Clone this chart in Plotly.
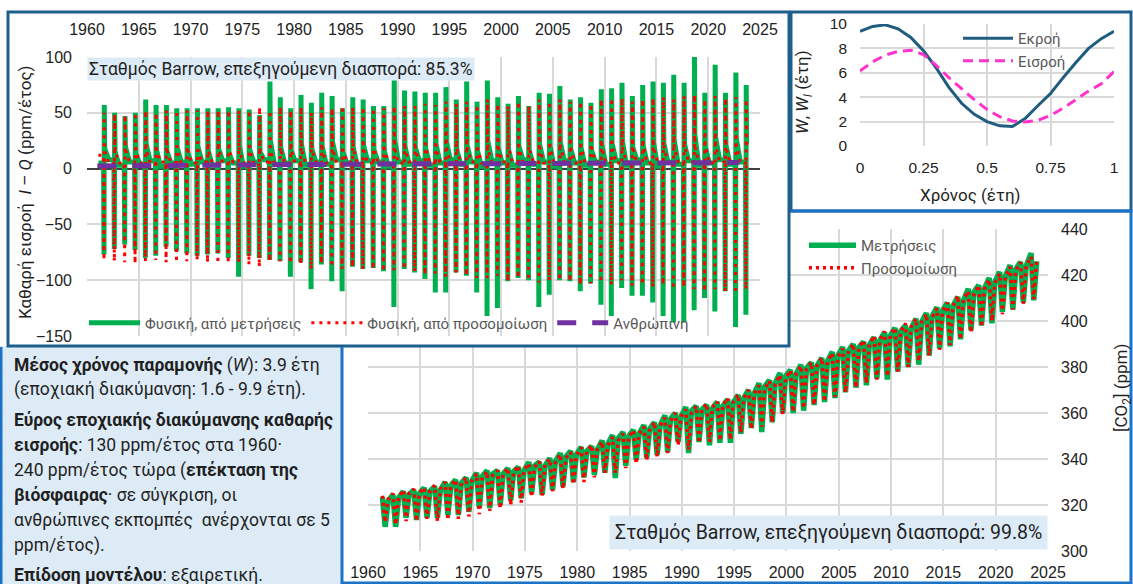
import plotly.graph_objects as go

# ---------------- DATA ----------------
years = list(range(1961, 2024))

# Net inflow I - Q (ppm/yr), per year: measured (green) & simulated (red)
net_meas_peak = [57, 50, 47, 50, 62, 57, 57, 54, 54,
                 54, 54, 54, 55, 54, 53, 48, 78, 64, 54,
                 66, 59, 68, 65, 54, 64, 62, 56, 56, 82,
                 70, 69, 68, 68, 73, 62, 78, 60, 79, 64,
                 58, 65, 56, 68, 67, 74, 62, 64, 59, 71,
                 72, 77, 65, 75, 78, 77, 84, 77, 100, 68,
                 93, 68, 86, 75]
net_meas_trough = [-77, -72, -68, -73, -80, -78, -70, -74, -76,
                   -78, -77, -76, -80, -97, -78, -80, -82, -83, -97,
                   -84, -108, -86, -101, -110, -88, -90, -89, -92, -124,
                   -90, -93, -99, -111, -111, -93, -96, -111, -132, -125,
                   -101, -98, -100, -124, -113, -100, -101, -110, -103, -122,
                   -132, -107, -114, -114, -120, -132, -138, -138, -127, -116,
                   -128, -110, -142, -131]
net_meas_winter = [5, 8, 3, 6, 4, 7, 2, 5, 6,
                   4, 6, 3, 7, 5, 2, 6, 8, 4, 5,
                   7, 3, 6, 4, 8, 5, 3, 7, 6, 2,
                   6, 4, 7, 3, 5, 8, 4, 6, 2, 7,
                   5, 3, 8, 4, 6, 2, 7, 5, 3, 6,
                   4, 7, 3, 8, 5, 2, 6, 4, 7, 3,
                   5, 8, 4, 6]
net_meas_autumn = [18, 15, 20, 14, 22, 17, 16, 19, 15,
                   20, 16, 18, 14, 21, 17, 15, 25, 19, 16,
                   22, 18, 20, 24, 15, 19, 21, 17, 16, 26,
                   20, 19, 18, 22, 24, 17, 21, 16, 25, 19,
                   17, 20, 16, 22, 21, 24, 18, 19, 17, 22,
                   23, 25, 19, 21, 24, 23, 26, 22, 30, 20,
                   28, 21, 27, 22]
net_sim_peak = [50, 49, 48, 50, 52, 50, 52, 52, 52,
                52, 52, 52, 52, 52, 52, 55, 52, 55, 52,
                55, 50, 55, 54, 56, 55, 55, 54, 54, 56,
                56, 56, 58, 57, 60, 58, 60, 57, 62, 58,
                56, 60, 56, 62, 60, 62, 60, 60, 58, 62,
                63, 63, 60, 62, 63, 64, 62, 65, 66, 62,
                65, 63, 64, 62]
net_sim_trough = [-82, -83, -84, -85, -83, -82, -84, -84, -83,
                  -82, -84, -85, -85, -84, -86, -88, -83, -83, -85,
                  -86, -90, -85, -88, -90, -88, -90, -90, -92, -91,
                  -90, -92, -95, -94, -97, -93, -96, -98, -98, -96,
                  -101, -98, -100, -102, -100, -100, -101, -104, -103, -102,
                  -104, -100, -105, -104, -106, -104, -108, -106, -108, -110,
                  -108, -110, -112, -108]
net_sim_winter = [12, 5, 5, 6, 5, 5, 6, 5, 5,
                  5, 6, 5, 5, 6, 5, 5, 6, 5, 5,
                  5, 5, 6, 5, 5, 6, 5, 5, 6, 5,
                  5, 6, 5, 5, 6, 5, 5, 6, 5, 5,
                  6, 5, 5, 6, 5, 5, 6, 5, 5, 6,
                  5, 5, 6, 5, 5, 6, 5, 5, 6, 5,
                  5, 6, 5, 5]
net_sim_autumn = [16, 16, 17, 16, 17, 16, 17, 16, 17,
                  17, 16, 17, 17, 16, 17, 17, 16, 17, 17,
                  17, 18, 17, 18, 17, 18, 18, 17, 18, 18,
                  18, 18, 19, 18, 19, 18, 19, 19, 18, 19,
                  19, 19, 18, 19, 19, 20, 19, 19, 20, 19,
                  20, 19, 20, 20, 19, 20, 20, 21, 20, 20,
                  21, 20, 21, 20]
net_human = [2.4, 2.5, 2.6, 2.7, 2.8, 2.9, 3.0, 3.0, 3.1,
             3.2, 3.3, 3.4, 3.5, 3.5, 3.5, 3.6, 3.7, 3.7, 3.8,
             3.8, 3.7, 3.7, 3.7, 3.8, 3.9, 3.9, 4.0, 4.1, 4.1,
             4.2, 4.2, 4.1, 4.1, 4.2, 4.2, 4.3, 4.3, 4.3, 4.4,
             4.4, 4.5, 4.5, 4.6, 4.7, 4.8, 4.9, 5.0, 5.0, 5.0,
             5.1, 5.2, 5.2, 5.2, 5.3, 5.3, 5.3, 5.3, 5.4, 5.4,
             5.1, 5.3, 5.4, 5.4]
# month offsets within a year (time positions of the values above)
net_phase = {"winter": 0.10, "pre": 0.60, "trough": 0.64, "peak": 0.67, "autumn": 0.71}

# [CO2] at Barrow (ppm): annual May peak, late-summer trough, December value
co2_meas_peak = [323.5, 324.5, 326, 326.5, 327.5, 328, 330, 331, 332,
                 334, 335, 335, 336, 336.5, 338.7, 338.7, 340.4, 342.6, 343.5,
                 345.2, 345.5, 348, 350.4, 351.7, 352.6, 354.8, 356, 359, 360,
                 362.6, 363, 363.5, 364.8, 366, 367.8, 370, 373, 374.3, 377.4,
                 378.7, 381, 382, 384, 386.6, 388.7, 390, 391, 393, 395,
                 397, 398, 401, 403.5, 406, 408, 410.5, 414, 415.6, 418.7,
                 421.3, 424.3, 425.7, 429.5]
co2_meas_trough = [310.5, 310.5, 314.5, 313.5, 314.5, 314.5, 315.6, 315.6, 317,
                   318.7, 318.7, 320, 322, 323, 325, 324.5, 326.5, 328, 330,
                   332, 333, 334, 331.7, 337, 339.6, 340.4, 341.7, 343, 347.4,
                   342.6, 347.4, 346, 347, 347, 351, 353.5, 351.7, 356, 360,
                   360, 361, 363.5, 364.8, 366.5, 369, 371, 372, 375, 374.5,
                   378, 380, 381, 385, 388, 389, 392, 396, 398, 399,
                   404, 405, 408, 409]
co2_meas_dec = [321.5, 323, 324.5, 325, 326, 326.5, 328.5, 329.5, 330.5,
                332.5, 333.5, 333.5, 334.5, 335, 337, 337, 339, 341, 342,
                343.5, 344, 346.5, 349, 350, 351, 353, 354.5, 357.5, 358.5,
                361, 361.5, 362, 363, 364.5, 366.5, 368.5, 371.5, 373, 376,
                377, 379.5, 380.5, 382.5, 385, 387, 388.5, 389.5, 391.5, 393.5,
                395.5, 396.5, 399.5, 402, 404.5, 406.5, 409, 412.5, 414, 417,
                419.5, 422.5, 424, 426]
co2_sim_peak = [324, 325, 326.5, 327, 327.5, 328.5, 330, 331, 332,
                333.5, 334.5, 335, 336, 337, 338, 339, 340, 342, 343,
                345, 346, 347.5, 349.5, 351, 352.5, 354, 356, 358, 360,
                361.5, 363, 364, 365, 366.5, 368, 370, 372, 374, 376.5,
                378.5, 380.5, 382, 384, 386, 388, 390, 391.5, 393.5, 395.5,
                397, 399, 401, 403, 405.5, 408, 411, 413, 415.5, 418,
                420.5, 423.5, 425.5, 428]
co2_sim_trough = [312.5, 311.5, 313, 313, 314, 313, 313.5, 314, 315,
                  316, 317.5, 318.5, 320, 321, 323.5, 324, 326, 327, 329,
                  330, 332, 334, 334, 336, 338, 339.5, 341, 342.6, 346,
                  344, 347, 347.5, 348, 348.5, 351.5, 353, 354, 356, 359.5,
                  360.5, 362, 363.5, 365, 367, 369, 371, 373, 374.5, 376,
                  378, 380, 382.5, 385, 387.5, 389.5, 392, 395, 397.5, 400,
                  403, 405, 407.5, 409.5]
co2_sim_dec = [322.5, 323.5, 325, 325.5, 326, 327, 328.5, 329.5, 330.5,
               332, 333, 333.5, 334.5, 335.5, 336.5, 337.5, 338.5, 340.5, 341.5,
               343.5, 344.5, 346, 348, 349.5, 351, 352.5, 354.5, 356.5, 358.5,
               360, 361.5, 362.5, 363.5, 365, 366.5, 368.5, 370.5, 372.5, 375,
               377, 379, 380.5, 382.5, 384.5, 386.5, 388.5, 390, 392, 394,
               395.5, 397.5, 399.5, 401.5, 404, 406.5, 409.5, 411.5, 414, 416.5,
               419, 422, 424, 426.5]
co2_phase = {"peak": 0.38, "trough": 0.64, "dec": 0.92}

# Residence times within the year (years)
t_year = [0.00, 0.05, 0.10, 0.15, 0.20, 0.25, 0.30, 0.35, 0.40, 0.45, 0.50,
          0.55, 0.60, 0.65, 0.70, 0.75, 0.80, 0.85, 0.90, 0.95, 1.00]
w_out = [9.4, 9.8, 9.93, 9.6, 8.9, 7.8, 6.4, 4.8, 3.5, 2.6, 2.0,
         1.65, 1.6, 2.25, 3.3, 4.3, 5.6, 6.85, 8.0, 8.8, 9.4]
w_in = [6.15, 6.9, 7.45, 7.75, 7.85, 7.5, 6.6, 5.6, 4.7, 3.8, 3.0,
        2.4, 2.05, 1.97, 2.1, 2.5, 3.1, 3.8, 4.5, 5.1, 6.1]

# tick values
yr_ticks = list(range(1960, 2026, 5))

# ---------------- LAYOUT HELPERS ----------------
W, H = 1133, 584
def px(x):
    return x / W
def py(y):
    return 1 - y / H

GREEN = "#00B050"
RED = "#FF0000"
PURPLE = "#7030A0"
GRID = "#D9D9D9"
TXT = "#1f1f1f"
LEG = "#595959"
TICKF = dict(family="Liberation Sans", size=16, color="#222222")


def build_net(winter, trough, peak, autumn):
    xs, ys = [], []
    for i, yr in enumerate(years):
        xs += [yr + net_phase["winter"], yr + net_phase["pre"], yr + net_phase["trough"],
               yr + net_phase["peak"], yr + net_phase["autumn"]]
        ys += [winter[i], winter[i], trough[i], peak[i], autumn[i]]
    return xs, ys


def build_co2(peak, trough, dec):
    xs, ys = [], []
    for i, yr in enumerate(years):
        xs += [yr + co2_phase["peak"], yr + co2_phase["trough"], yr + co2_phase["dec"]]
        ys += [peak[i], trough[i], dec[i]]
    return xs, ys


fig = go.Figure()

# --- bottom CO2 chart (x / y) ---
cx, cy = build_co2(co2_meas_peak, co2_meas_trough, co2_meas_dec)
fig.add_trace(go.Scatter(x=cx, y=cy, mode="lines", name="Μετρήσεις",
                         line=dict(color=GREEN, width=5.5), xaxis="x", yaxis="y",
                         legend="legend3"))
sx, sy = build_co2(co2_sim_peak, co2_sim_trough, co2_sim_dec)
fig.add_trace(go.Scatter(x=sx, y=sy, mode="lines", name="Προσομοίωση",
                         line=dict(color=RED, width=3.5, dash="3px,4px"), xaxis="x", yaxis="y",
                         legend="legend3"))

# --- cover subplot (x2 / y2): white backdrop for the top-left panel ---
fig.add_trace(go.Scatter(x=[None], y=[None], xaxis="x2", yaxis="y2",
                         showlegend=False, hoverinfo="skip"))

# --- top-left net inflow chart (x3 / y3) ---
nx, ny = build_net(net_meas_winter, net_meas_trough, net_meas_peak, net_meas_autumn)
fig.add_trace(go.Scatter(x=nx, y=ny, mode="lines", name="Φυσική, από μετρήσεις",
                         line=dict(color=GREEN, width=5), xaxis="x3", yaxis="y3",
                         legend="legend"))
rx, ry = build_net(net_sim_winter, net_sim_trough, net_sim_peak, net_sim_autumn)
fig.add_trace(go.Scatter(x=rx, y=ry, mode="lines", name="Φυσική, από προσομοίωση",
                         line=dict(color=RED, width=3, dash="3px,5px"), xaxis="x3", yaxis="y3",
                         legend="legend"))
fig.add_trace(go.Scatter(x=years, y=net_human, mode="lines", name="Ανθρώπινη",
                         line=dict(color=PURPLE, width=5, dash="19px,16px"),
                         xaxis="x3", yaxis="y3", legend="legend"))

# --- top-right residence time chart (x4 / y4) ---
fig.add_trace(go.Scatter(x=t_year, y=w_out, mode="lines", name="Εκροή",
                         line=dict(color="#1F5C7E", width=3), xaxis="x4", yaxis="y4",
                         legend="legend2"))
fig.add_trace(go.Scatter(x=t_year, y=w_in, mode="lines", name="Εισροή",
                         line=dict(color="#FF33CC", width=3, dash="10px,6px"),
                         xaxis="x4", yaxis="y4", legend="legend2"))

legend_font = dict(family="Roboto", size=15, color=LEG)

def grid_axis(**kw):
    d = dict(showgrid=True, gridcolor=GRID, gridwidth=1.5, zeroline=False,
             automargin=False, showline=False, ticks="")
    d.update(kw)
    return d

fig.update_layout(
    template="none",
    width=W, height=H,
    margin=dict(l=0, r=0, t=0, b=0, pad=0, autoexpand=False),
    paper_bgcolor="white", plot_bgcolor="white",
    xaxis=grid_axis(domain=[px(368), px(1048)], range=[1960, 2025], tickvals=yr_ticks,
                    tickfont=TICKF, ticklabelstandoff=10, anchor="y"),
    yaxis=grid_axis(domain=[py(551), py(229)], range=[300, 440], dtick=20, side="right",
                    tickfont=TICKF, ticklabelstandoff=12, anchor="x"),
    xaxis2=dict(domain=[px(9), px(788)], range=[0, 1], visible=False, anchor="y2",
                automargin=False),
    yaxis2=dict(domain=[py(345), py(14)], range=[0, 1], visible=False, anchor="x2",
                automargin=False),
    xaxis3=grid_axis(domain=[px(87), px(760)], range=[1960, 2025], tickvals=yr_ticks, side="top",
                     tickfont=TICKF, ticklabelstandoff=18, anchor="y3"),
    yaxis3=grid_axis(domain=[py(336), py(57)], range=[-150, 100], dtick=50,
                     zeroline=True, zerolinecolor="#404040", zerolinewidth=2,
                     tickfont=TICKF, ticklabelstandoff=14, anchor="x3"),
    xaxis4=grid_axis(domain=[px(860), px(1114)], range=[0, 1],
                     tickvals=[0, 0.25, 0.5, 0.75, 1], ticktext=["0", "0.25", "0.5", "0.75", "1"],
                     tickfont=dict(family="Liberation Sans", size=15.5, color="#222222"),
                     ticklabelstandoff=10, anchor="y4"),
    yaxis4=grid_axis(domain=[py(146), py(24)], range=[0, 10], dtick=2,
                     tickfont=dict(family="Liberation Sans", size=15.5, color="#222222"),
                     ticklabelstandoff=12, anchor="x4"),
    legend=dict(x=px(84), y=py(323), xanchor="left", yanchor="middle", orientation="h",
                bgcolor="rgba(0,0,0,0)", font=legend_font, itemwidth=51),
    legend2=dict(x=px(958), y=py(22), xanchor="left", yanchor="top",
                 bgcolor="rgba(0,0,0,0)", font=legend_font, tracegroupgap=0, itemwidth=50),
    legend3=dict(x=px(804), y=py(229), xanchor="left", yanchor="top",
                 bgcolor="rgba(0,0,0,0)", font=legend_font, tracegroupgap=0, itemwidth=47),
    showlegend=True,
    hovermode=False,
)

ann = []
# station boxes
ann.append(dict(text="Σταθμός Barrow, επεξηγούμενη διασπορά: 85.3%", xref="paper", yref="paper",
                x=px(87), y=py(57), xanchor="left", yanchor="top", showarrow=False,
                bgcolor="#DDEBF7", borderpad=1,
                font=dict(family="Roboto", size=17.5, color=TXT)))
ann.append(dict(text="Σταθμός Barrow, επεξηγούμενη διασπορά: 99.8%", xref="paper", yref="paper",
                x=px(1048), y=py(550), xanchor="right", yanchor="bottom", showarrow=False,
                bgcolor="#DDEBF7", borderpad=5,
                font=dict(family="Roboto", size=19.5, color=TXT)))
# axis titles
ann.append(dict(text="Καθαρή εισροή  <i>I</i> – <i>Q</i> (ppm/έτος)", xref="paper", yref="paper",
                x=px(25), y=py(192), xanchor="center", yanchor="middle", textangle=-90,
                showarrow=False, font=dict(family="Roboto", size=17, color=TXT)))
ann.append(dict(text="<i>W</i>, <i>W<sub>I</sub></i> (έτη)", xref="paper", yref="paper",
                x=px(804), y=py(92), xanchor="center", yanchor="middle", textangle=-90,
                showarrow=False, font=dict(family="Roboto", size=17, color=TXT)))
ann.append(dict(text="Χρόνος (έτη)", xref="paper", yref="paper",
                x=px(970), y=py(195), xanchor="center", yanchor="middle", showarrow=False,
                font=dict(family="Roboto", size=17, color=TXT)))
ann.append(dict(text="[CO<sub>2</sub>] (ppm)", xref="paper", yref="paper",
                x=px(1122), y=py(388), xanchor="center", yanchor="middle", textangle=-90,
                showarrow=False, font=dict(family="Roboto", size=17, color=TXT)))

# left info text
info_lines = [
    ("<b>Μέσος χρόνος παραμονής</b> (<i>W</i>): 3.9 έτη", 365),
    ("(εποχιακή διακύμανση: 1.6 - 9.9 έτη).", 389),
    ("<b>Εύρος εποχιακής διακύμανσης καθαρής</b>", 420),
    ("<b>εισροής</b>: 130 ppm/έτος στα 1960·", 445),
    ("240 ppm/έτος τώρα (<b>επέκταση της</b>", 470),
    ("<b>βιόσφαιρας</b>· σε σύγκριση, οι", 495),
    ("ανθρώπινες εκπομπές  ανέρχονται σε 5", 520),
    ("ppm/έτος).", 545),
    ("<b>Επίδοση μοντέλου</b>: εξαιρετική.", 575),
]
for txt, yy in info_lines:
    ann.append(dict(text=txt, xref="paper", yref="paper", x=px(12), y=py(yy),
                    xanchor="left", yanchor="middle", showarrow=False,
                    font=dict(family="Roboto", size=17.5, color=TXT)))
fig.update_layout(annotations=ann)

DARK = "#1D5E8C"
BLUE = "#1A73C7"
shapes = [
    dict(type="rect", xref="paper", yref="paper", x0=px(0), x1=px(342), y0=py(584), y1=py(346),
         fillcolor="#DDEBF7", line=dict(width=0), layer="below"),
    dict(type="rect", xref="paper", yref="paper", x0=px(8), x1=px(789), y0=py(346), y1=py(12),
         line=dict(color=DARK, width=3), layer="above"),
    dict(type="rect", xref="paper", yref="paper", x0=px(791), x1=px(1131), y0=py(211), y1=py(12),
         line=dict(color=DARK, width=3), layer="above"),
    dict(type="path", xref="paper", yref="paper",
         path=f"M {px(791)} {py(211)} L {px(1131)} {py(211)} L {px(1131)} {py(583)} "
              f"L {px(342)} {py(583)} L {px(342)} {py(347)}",
         line=dict(color=BLUE, width=3), layer="above"),
    dict(type="line", xref="paper", yref="paper", x0=px(1), x1=px(1), y0=py(584), y1=py(347),
         line=dict(color=BLUE, width=3), layer="above"),
]
fig.update_layout(shapes=shapes)

fig.write_html("out.html", config={"displayModeBar": False},
               post_script="document.body.style.margin='0px';document.body.style.overflow='hidden';")
